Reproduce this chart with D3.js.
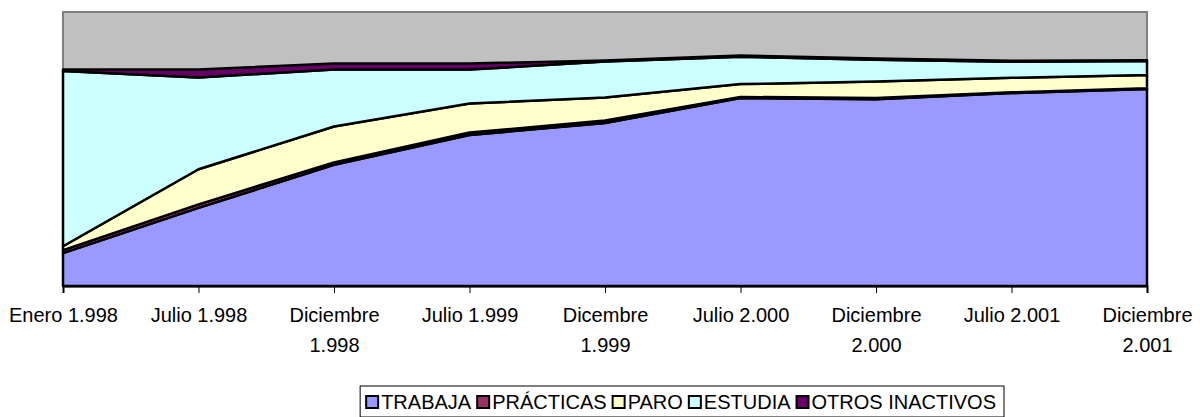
<!DOCTYPE html>
<html>
  <head>
    <meta charset="utf-8">
    <title>D3</title>
    <script src="https://d3js.org/d3.v7.min.js"></script>
    <style>
      body { margin: 0; background: #fff; }
      text { font-family: "Liberation Sans", Arial, sans-serif; fill: #000; }
    </style>
  </head>
  <body>
    <script type="text/javascript">
      var categories = ['Enero 1.998', 'Julio 1.998', 'Diciembre 1.998', 'Julio 1.999', 'Dicembre 1.999',
                        'Julio 2.000', 'Diciembre 2.000', 'Julio 2.001', 'Diciembre 2.001'];
      var seriesNames = ['TRABAJA', 'PRÁCTICAS', 'PARO', 'ESTUDIA', 'OTROS INACTIVOS'];
      var trabaja   = [12.0, 28.5, 44.2, 55.1, 59.5, 68.6, 68.2, 70.4, 71.9];
      var practicas = [1.1, 1.3, 0.9, 0.9, 0.9, 0.4, 0.4, 0.3, 0.3];
      var paro      = [1.4, 12.8, 13.1, 10.6, 8.4, 4.7, 6.0, 5.3, 4.8];
      var estudia   = [64.0, 33.5, 20.8, 12.4, 13.1, 10.0, 8.0, 5.8, 5.1];
      var otros     = [0.5, 2.9, 2.2, 2.2, 0.4, 0.4, 0.4, 0.4, 0.3];
      var colors = ['#9999ff', '#993366', '#ffffcc', '#ccffff', '#660066'];

      var W = 1200, H = 417;
      var plotL = 63, plotR = 1147, plotT = 12, plotB = 286;

      var rows = categories.map(function (c, i) {
        return { cat: c, 'TRABAJA': trabaja[i], 'PRÁCTICAS': practicas[i], 'PARO': paro[i],
                 'ESTUDIA': estudia[i], 'OTROS INACTIVOS': otros[i] };
      });
      var stack = d3.stack().keys(seriesNames)(rows);

      var x = d3.scalePoint().domain(categories).range([plotL, plotR]);
      var y = d3.scaleLinear().domain([0, 100]).range([plotB, plotT]);

      var svg = d3.select('body').append('svg')
                  .attr('width', W).attr('height', H);

      // plot area
      svg.append('rect')
         .attr('x', plotL).attr('y', plotT)
         .attr('width', plotR - plotL).attr('height', plotB - plotT)
         .attr('fill', '#c0c0c0').attr('stroke', '#808080').attr('stroke-width', 2);

      var area = d3.area()
                   .x(function (d) { return x(d.data.cat); })
                   .y0(function (d) { return y(d[0]); })
                   .y1(function (d) { return y(d[1]); });

      svg.selectAll('path.layer')
         .data(stack)
         .enter()
           .append('path')
           .attr('class', 'layer')
           .attr('d', area)
           .attr('fill', function (d, i) { return colors[i]; })
           .attr('stroke', '#000')
           .attr('stroke-width', 2.5)
           .attr('stroke-linejoin', 'round');

      // x axis
      var axis = d3.axisBottom(x).tickSize(7).tickPadding(10);
      var gx = svg.append('g')
                  .attr('transform', 'translate(0,' + plotB + ')')
                  .call(axis);
      gx.select('.domain').attr('stroke', '#000').attr('stroke-width', 2);
      gx.selectAll('.tick line').attr('stroke', '#000');
      gx.selectAll('.tick text')
        .style('font-size', '20px')
        .each(function (d) {
          var t = d3.select(this);
          var step = x.step();
          t.text(d);
          if (this.getComputedTextLength() > step - 4) {
            var k = d.lastIndexOf(' ');
            t.text(null);
            t.append('tspan').attr('x', 0).attr('dy', '0.71em').text(d.slice(0, k));
            t.append('tspan').attr('x', 0).attr('dy', '1.5em').text(d.slice(k + 1));
          } else {
            t.attr('dy', '0.71em');
          }
        })
        .attr('y', 22);

      // legend
      var lg = svg.append('g');
      var box = lg.append('rect').attr('fill', '#fff').attr('stroke', '#000').attr('stroke-width', 1);
      var lx = 6;
      seriesNames.forEach(function (name, i) {
        lg.append('rect')
          .attr('x', lx).attr('y', 10).attr('width', 12).attr('height', 12)
          .attr('fill', colors[i]).attr('stroke', '#000').attr('stroke-width', 2);
        var t = lg.append('text').attr('x', lx + 15).attr('y', 23)
                  .style('font-size', '20px').text(name);
        lx += 15 + t.node().getComputedTextLength() + 6;
      });
      var lw = lx + 2;
      box.attr('x', 0).attr('y', 0).attr('width', lw).attr('height', 31);
      lg.attr('transform', 'translate(' + (1004 - lw) + ',386)');
    </script>
  </body>
</html>
